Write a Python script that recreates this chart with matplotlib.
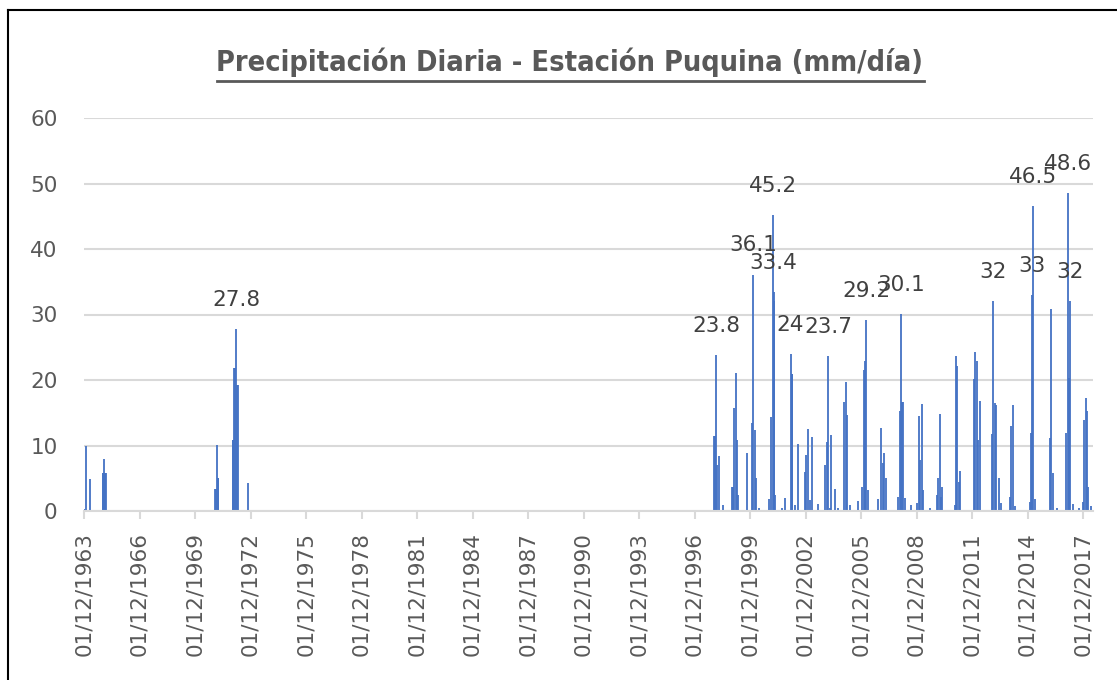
import matplotlib
matplotlib.use('Agg')
import matplotlib.pyplot as plt
import matplotlib.dates as mdates
from matplotlib.lines import Line2D
import numpy as np
import pandas as pd

# Precipitación diaria (mm/día), solo los días con lluvia
fechas_6372 = ['1963-12-05', '1963-12-31', '1964-04-05',
               '1964-12-01', '1964-12-15', '1964-12-30', '1965-01-12', '1965-01-25', '1965-02-05',
               '1970-12-30', '1971-01-12', '1971-02-10', '1971-02-22', '1971-03-05',
               '1971-12-12', '1971-12-28', '1972-01-15', '1972-02-01', '1972-02-25',
               '1972-03-15', '1972-04-01', '1972-10-20']
pp_6372 = [0.3, 10.0, 4.9,
           5.8, 5.8, 7.9, 5.8, 5.8, 5.8,
           3.3, 3.3, 10.1, 5.1, 5.1,
           10.8, 10.8, 21.8, 21.8, 27.8,
           19.2, 19.2, 4.2]

fechas_9807 = ['1997-12-23', '1998-01-12', '1998-02-01', '1998-02-27', '1998-03-26', '1998-06-25',
               '1998-12-08', '1998-12-25', '1999-01-17', '1999-02-18', '1999-03-17', '1999-04-17', '1999-10-06',
               '2000-01-07', '2000-02-02', '2000-02-28', '2000-03-27', '2000-05-26',
               '2000-12-20', '2001-01-18', '2001-02-19', '2001-03-11', '2001-03-25', '2001-04-08',
               '2001-08-23', '2001-10-22',
               '2002-02-10', '2002-02-28', '2002-03-12', '2002-05-05', '2002-07-05',
               '2002-11-25', '2002-12-20', '2003-01-25', '2003-03-04', '2003-04-05', '2003-07-27',
               '2003-12-20', '2004-01-22', '2004-02-18', '2004-03-20', '2004-04-17', '2004-07-05', '2004-09-10',
               '2005-01-07', '2005-02-01', '2005-03-01', '2005-05-05', '2005-09-27',
               '2005-12-28', '2006-01-22', '2006-02-20', '2006-03-17', '2006-04-20',
               '2006-11-09', '2007-01-08', '2007-02-02', '2007-03-08', '2007-04-10']
pp_9807 = [11.5, 11.5, 23.8, 7.0, 8.4, 0.9,
           3.6, 3.6, 15.8, 21.1, 10.8, 2.4, 8.8,
           13.5, 36.1, 12.4, 5.0, 0.5,
           1.9, 14.4, 45.2, 33.4, 32.0, 2.4,
           0.5, 2.0,
           24.0, 20.9, 20.9, 0.9, 10.3,
           6.0, 8.5, 12.5, 1.7, 11.3, 1.0,
           7.0, 10.6, 23.7, 0.5, 11.6, 3.3, 0.5,
           16.7, 19.7, 14.7, 0.9, 1.5,
           3.6, 21.5, 22.9, 29.2, 3.2,
           1.8, 12.7, 7.3, 8.8, 5.1]

fechas_0818 = ['2007-12-04', '2008-01-04', '2008-02-01', '2008-02-21', '2008-03-18', '2008-04-08', '2008-08-23',
               '2008-12-14', '2009-01-09', '2009-02-17', '2009-03-14', '2009-04-12', '2009-08-22',
               '2010-01-05', '2010-02-02', '2010-03-05', '2010-04-01', '2010-04-27',
               '2010-12-27', '2011-01-15', '2011-02-13', '2011-03-15', '2011-04-12',
               '2012-01-07', '2012-02-03', '2012-02-28', '2012-04-01', '2012-05-04',
               '2012-12-22', '2013-01-26', '2013-02-21', '2013-03-25', '2013-05-15', '2013-06-17',
               '2013-12-13', '2014-01-15', '2014-02-17', '2014-03-22',
               '2015-01-13', '2015-02-07', '2015-02-28', '2015-03-26', '2015-04-27',
               '2016-02-17', '2016-03-17', '2016-04-19', '2016-07-15',
               '2017-01-07', '2017-02-05', '2017-03-04', '2017-03-28', '2017-05-19', '2017-09-20',
               '2017-12-01', '2017-12-29', '2018-01-23', '2018-02-17', '2018-03-17', '2018-05-14']
pp_0818 = [2.1, 15.2, 30.1, 16.7, 16.7, 2.0, 0.9,
           1.2, 14.5, 7.8, 16.3, 3.2, 0.5,
           2.4, 5.0, 14.8, 2.2, 3.6,
           0.9, 23.7, 22.2, 4.5, 6.1,
           20.1, 24.3, 22.9, 10.8, 16.8,
           11.8, 32.0, 16.5, 16.2, 5.1, 1.2,
           2.2, 13.0, 16.2, 0.7,
           1.4, 11.9, 33.0, 46.5, 1.8,
           11.1, 30.9, 5.8, 0.5,
           11.9, 48.6, 20.3, 32.0, 1.1, 0.5,
           1.4, 13.9, 17.2, 15.2, 3.6, 0.8]

# Días con etiqueta de valor
fechas_etiq = ['1972-02-25', '1998-02-01', '2000-02-02', '2001-03-11', '2001-02-19', '2002-02-10',
               '2004-02-18', '2006-03-17', '2008-02-01', '2013-01-26', '2015-02-28', '2015-03-26',
               '2017-03-28', '2017-02-05']

titulo = 'Precipitación Diaria - Estación Puquina (mm/día)'
y_ticks = [0, 10, 20, 30, 40, 50, 60]

serie = pd.Series(pp_6372 + pp_9807 + pp_0818,
                  index=pd.to_datetime(fechas_6372 + fechas_9807 + fechas_0818))

azul = '#4472C4'
gris_grid = '#D9D9D9'
gris_txt = '#595959'

fig = plt.figure(figsize=(11.17, 6.8), dpi=100)
fig.patch.set_facecolor('white')
ax = fig.add_axes([84/1117, 169/680, 1009/1117, 393/680])

ax.vlines(serie.index, 0, serie.values, color=azul, lw=1.3, zorder=3)

# Etiquetas de datos
for f in pd.to_datetime(fechas_etiq):
    v = serie[f]
    ax.annotate(f'{v:g}', xy=(f, v), xytext=(0, 21), textcoords='offset points',
                ha='center', va='center', fontsize=15.5, color='#404040', zorder=5)

ax.set_ylim(0, 60)
ax.set_yticks(y_ticks)
ax.set_xlim(pd.Timestamp('1963-12-01'), pd.Timestamp('2018-06-16'))
ticks_x = pd.date_range('1963-12-01', '2017-12-01', freq='36MS')
ax.set_xticks(ticks_x)
ax.xaxis.set_major_formatter(mdates.DateFormatter('%d/%m/%Y'))
ax.tick_params(axis='x', rotation=90, labelsize=15.5, labelcolor=gris_txt,
               length=6, width=1.5, color=gris_grid, pad=9)
ax.tick_params(axis='y', labelsize=15.5, labelcolor=gris_txt, length=0, pad=19)

ax.grid(axis='y', color=gris_grid, lw=1.5, zorder=0)
ax.set_axisbelow(True)
for s in ['top', 'right', 'left']:
    ax.spines[s].set_visible(False)
ax.spines['bottom'].set_color(gris_grid)
ax.spines['bottom'].set_linewidth(1.5)
ax.spines['bottom'].set_zorder(4)

# Título subrayado (fuente condensada si existe)
t = fig.text(570/1117, 1 - 62/680, titulo, ha='center', va='center',
             fontsize=22, fontweight='bold', fontstretch='condensed', color=gris_txt,
             family=['DejaVu Sans'])
fig.canvas.draw()
bb = t.get_window_extent()
t.set_fontsize(min(26, 22 * 704 / bb.width))
fig.canvas.draw()
bb = t.get_window_extent()
fig.add_artist(Line2D([bb.x0/1117, bb.x1/1117], [1 - 81/680, 1 - 81/680],
                      color=gris_txt, lw=2, transform=fig.transFigure))

# Marco del gráfico
fig.add_artist(Line2D([8/1117, 8/1117], [0, 1 - 10/680], color='black', lw=1.5,
                      transform=fig.transFigure))
fig.add_artist(Line2D([8/1117, 1], [1 - 10/680, 1 - 10/680], color='black', lw=1.5,
                      transform=fig.transFigure))

fig.savefig('out.png', dpi=100)
